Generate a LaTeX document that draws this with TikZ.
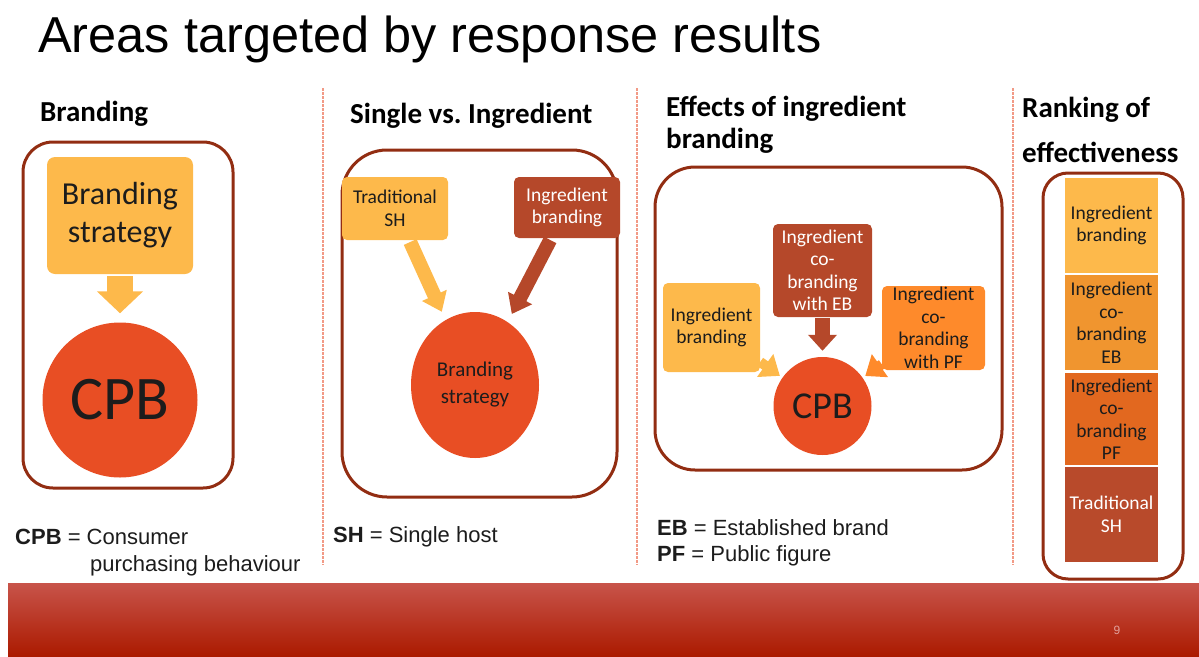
\documentclass[tikz,border=0pt]{standalone}
\usepackage{fontspec}
\setmainfont{Liberation Sans}
\newfontfamily\carlito{Carlito}
\usetikzlibrary{arrows.meta,shapes.geometric}
\pgfdeclarelayer{behind}
\pgfsetlayers{behind,main}

\definecolor{framered}{HTML}{922D12}
\definecolor{sunny}{HTML}{FDB94B}
\definecolor{rust}{HTML}{B5482A}
\definecolor{tangerine}{HTML}{FE8A2B}
\definecolor{cpbred}{HTML}{E84E24}
\definecolor{rankB}{HTML}{F0952F}
\definecolor{rankC}{HTML}{E2681F}
\definecolor{rankD}{HTML}{B84A2B}
\definecolor{sepline}{HTML}{F29A86}
\definecolor{barTop}{HTML}{C8544A}
\definecolor{barMid}{HTML}{B82100}
\definecolor{barBot}{HTML}{AB1A00}
\definecolor{ink}{HTML}{1C1C1C}

\tikzset{
  frame/.style={draw=framered, line width=3pt, rounded corners=#1},
  frame/.default=30pt,
  head/.style={anchor=base west, inner sep=0pt, font=\carlito\bfseries\fontsize{29}{34}\selectfont},
  legend/.style={anchor=base west, inner sep=0pt, font=\fontsize{22}{27}\selectfont, text=ink},
  box/.style={rounded corners=5pt, inner sep=0pt, align=center, text=ink,
    font=\carlito\fontsize{19.5}{22.5}\selectfont},
  blob/.style={fill=cpbred, inner sep=0pt, align=center, text=ink}
}

\begin{document}
\begin{tikzpicture}[x=1pt,y=-1pt]
\useasboundingbox (0,0) rectangle (1199,656);
\node[anchor=base west, inner sep=0pt, font=\fontsize{50.5}{60}\selectfont] (title) at (38,52) {Areas targeted by response results};

\foreach \x in {323,637,1013}
  \draw[sepline, line width=1.6pt, dash pattern=on 2.5pt off 1.5pt] (\x,88) -- (\x,565);

% Branding
\node[head] (h1) at (40,121) {Branding};
\draw[frame] (23,142) rectangle (233,488);
\node[box, fill=sunny, minimum width=146pt, minimum height=117pt, rounded corners=8pt,
  font=\carlito\fontsize{32}{38}\selectfont] (strat1) at (120,215.5) {Branding\\strategy};
\node[blob, circle, minimum size=155pt, font=\carlito\fontsize{62}{70}\selectfont] (cpb1) at (120,400) {CPB};
\draw[sunny, line width=26pt, -{Triangle[length=22pt,width=45pt]}, shorten <=2pt, shorten >=9pt] (strat1) -- (cpb1);
\node[legend] (leg1) at (15,544) {\textbf{CPB} = Consumer};
\node[legend] (leg1b) at (90,571) {purchasing behaviour};

% Single vs. Ingredient
\node[head] (h2) at (350,123) {Single vs.\ Ingredient};
\draw[frame=45pt] (342,150) rectangle (617,497);
\node[box, fill=sunny, minimum width=106pt, minimum height=63pt] (trad) at (395,208.5) {Traditional\\SH};
\node[box, fill=rust, text=white, minimum width=106pt, minimum height=61pt] (ingr) at (567,207.5) {Ingredient\\branding};
\node[blob, ellipse, minimum width=128pt, minimum height=146pt, font=\carlito\fontsize{21}{27}\selectfont] (strat2) at (475,385) {Branding\\strategy};
\draw[sunny, line width=14pt, -{Triangle[length=18pt,width=26pt]}, shorten <=2pt, shorten >=9pt] (trad) -- (strat2);
\draw[rust, line width=14pt, -{Triangle[length=18pt,width=26pt]}, shorten <=2pt, shorten >=9pt] (ingr) -- (strat2);
\node[legend] (leg2) at (333,542) {\textbf{SH} = Single host};

% Effects of ingredient branding
\node[head] (h3) at (666,116) {Effects of ingredient};
\node[head] (h3b) at (666,148) {branding};
\draw[frame=40pt] (655,167) rectangle (1002,470);
\node[box, fill=rust, text=white, minimum width=99pt, minimum height=93pt] (eb) at (822.5,270.5) {Ingredient\\co-\\branding\\with EB};
\node[box, fill=sunny, minimum width=97pt, minimum height=89pt] (ib) at (711.5,327.5) {Ingredient\\branding};
\node[box, fill=tangerine, minimum width=103pt, minimum height=84pt] (pf) at (933.5,328) {Ingredient\\co-\\branding\\with PF};
\node[blob, circle, minimum size=98pt, font=\carlito\fontsize{38}{44}\selectfont] (cpb2) at (822.5,406) {CPB};
\draw[rust, line width=15pt, -{Triangle[length=16pt,width=28pt]}, shorten <=1pt, shorten >=6pt] (eb) -- (cpb2);
\begin{pgfonlayer}{behind}
\draw[sunny, line width=10pt, -{Triangle[length=18pt,width=27pt]}, shorten >=3pt] (ib) -- (cpb2);
\draw[tangerine, line width=10pt, -{Triangle[length=18pt,width=27pt]}, shorten >=3pt] (pf) -- (cpb2);
\end{pgfonlayer}
\node[legend] (leg3) at (657,535) {\textbf{EB} = Established brand};
\node[legend] (leg3b) at (657,561) {\textbf{PF} = Public figure};

% Ranking of effectiveness
\node[head] (h4) at (1022,117) {Ranking of};
\node[head] (h4b) at (1022,162) {effectiveness};
\draw[frame=25pt] (1043,173) rectangle (1183,579);
\foreach \i/\y/\h/\col/\tcol/\txt in {1/225.5/95/sunny/ink/{Ingredient\\branding},
    2/322.5/95/rankB/ink/{Ingredient\\co-\\branding\\EB},
    3/419/92/rankC/ink/{Ingredient\\co-\\branding\\PF},
    4/514.5/95/rankD/white/{Traditional\\SH}}
  \node[box, rounded corners=0pt, fill=\col, text=\tcol, minimum width=93pt, minimum height=\h pt] (rank\i) at (1111.5,\y) {\txt};

\shade[top color=barTop, middle color=barMid, bottom color=barBot] (8,583) rectangle (1199,656);
\node[font=\fontsize{12}{14}\selectfont, text=barTop!55!white] (pagenum) at (1117,630) {9};
\end{tikzpicture}
\end{document}
